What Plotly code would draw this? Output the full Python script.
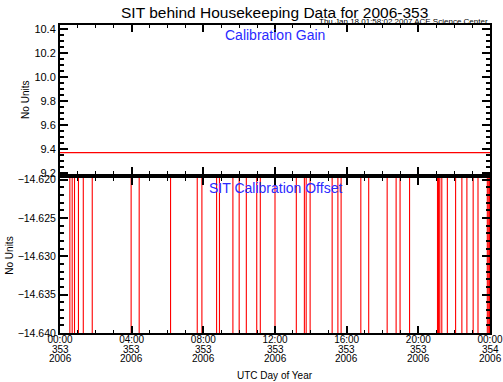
import plotly.graph_objects as go
from datetime import datetime, timedelta

# ---- data ----
day_start = "2006-12-19 00:00"
day_end = "2006-12-20 00:00"
gain_times = ["2006-12-19 00:00", "2006-12-20 00:00"]
gain_values = [9.37, 9.37]

# hours of day (353) at which the calibration offset jumps
offset_spike_hours = [0.55, 0.68, 0.81, 1.03, 1.30, 1.80, 3.97, 4.42, 6.17, 7.66, 7.92,
                      8.74, 8.90, 9.65, 10.00, 10.40, 10.98, 11.18, 12.00, 13.19, 13.64,
                      13.74, 13.96, 15.19, 15.51, 15.69, 16.79, 17.23, 18.26, 18.76, 18.98,
                      19.51, 21.07, 21.13, 21.20, 21.31, 21.62, 22.08, 22.43, 22.71, 23.06,
                      23.33, 23.85, 23.93, 23.98]
offset_low = -14.641   # just below the plotted range
offset_high = -14.619  # just above the plotted range

tick_vals = ["2006-12-19 00:00", "2006-12-19 04:00", "2006-12-19 08:00", "2006-12-19 12:00",
             "2006-12-19 16:00", "2006-12-19 20:00", "2006-12-20 00:00"]
tick_time = ["00:00", "04:00", "08:00", "12:00", "16:00", "20:00", "00:00"]
tick_doy = ["353", "353", "353", "353", "353", "353", "354"]
tick_year = ["2006", "2006", "2006", "2006", "2006", "2006", "2006"]

gain_ticks = [9.2, 9.4, 9.6, 9.8, 10.0, 10.2, 10.4]
offset_ticks = [-14.640, -14.635, -14.630, -14.625, -14.620]

# ---- build offset series ----
t0 = datetime(2006, 12, 19)
ox, oy = [t0], [offset_low]
for h in offset_spike_hours:
    t = t0 + timedelta(hours=h)
    ox += [t, t, t]
    oy += [offset_low, offset_high, offset_low]
ox.append(t0 + timedelta(hours=24))
oy.append(offset_low)

FONT = "Liberation Sans, Arial, sans-serif"
BLUE = "#2a2aff"
RED = "#ff0000"

fig = go.Figure()
fig.add_trace(go.Scatter(x=gain_times, y=gain_values, mode="lines",
                         line=dict(color=RED, width=1.2), xaxis="x", yaxis="y"))
fig.add_trace(go.Scatter(x=ox, y=oy, mode="lines",
                         line=dict(color=RED, width=1.1), xaxis="x2", yaxis="y2"))

axis_common = dict(showline=True, linecolor="black", linewidth=2, mirror="allticks",
                   ticks="inside", tickcolor="black", tickwidth=1.5, showgrid=False,
                   zeroline=False, automargin=False, layer="above traces")
xminor = dict(ticks="inside", dtick=3600000, ticklen=3, tickcolor="black", tickwidth=1)

fig.update_layout(
    width=503, height=382,
    margin=dict(l=60, r=13, t=25, b=49),
    paper_bgcolor="white", plot_bgcolor="white",
    showlegend=False,
    font=dict(family=FONT, color="black", size=10.5),
    xaxis=dict(domain=[0, 1], anchor="y", range=[day_start, day_end], type="date",
               tickvals=tick_vals, ticktext=tick_time, showticklabels=False, ticklen=7,
               minor=xminor, **axis_common),
    yaxis=dict(domain=[0.515, 1.0], anchor="x", range=[9.188, 10.433],
               tickvals=gain_ticks, tickformat=".1f", ticklen=8,
               minor=dict(ticks="inside", dtick=0.05, ticklen=4, tickcolor="black"),
               title=dict(text="No Units", font=dict(size=10), standoff=3),
               tickfont=dict(size=11), **axis_common),
    xaxis2=dict(domain=[0, 1], anchor="y2", range=[day_start, day_end], type="date",
                tickvals=tick_vals, ticktext=tick_time, ticklen=7, ticklabelstandoff=-4,
                minor=xminor, tickfont=dict(size=10), **axis_common),
    yaxis2=dict(domain=[0, 0.503], anchor="x2", range=[-14.6400, -14.6198],
                tickvals=offset_ticks, tickformat=".3f", ticklen=8,
                minor=dict(ticks="inside", dtick=0.001, ticklen=4, tickcolor="black"),
                title=dict(text="No Units", font=dict(size=10), standoff=2),
                tickfont=dict(size=10.5), **axis_common),
)

ann = [
    dict(text="SIT behind Housekeeping Data for 2006-353", x=0.498, y=1.0,
         xanchor="center", yanchor="middle", yshift=13, font=dict(size=15.5)),
    dict(text="Thu Jan 18 01:58:02 2007 ACE Science Center", x=1.0, y=1.0,
         xanchor="right", yanchor="middle", yshift=4, font=dict(size=8)),
    dict(text="Calibration Gain", x=0.5, y=1.0, xanchor="center", yanchor="middle",
         yshift=-10, font=dict(size=14, color=BLUE)),
    dict(text="SIT Calibration Offset", x=0.5, y=0.503, xanchor="center",
         yanchor="middle", yshift=-10, font=dict(size=14, color=BLUE)),
    dict(text="UTC Day of Year", x=0.5, y=0.0, xanchor="center", yanchor="middle",
         yshift=-42, font=dict(size=10)),
]
for a in ann:
    a.update(xref="paper", yref="paper", showarrow=False)
for tv, d, yr in zip(tick_vals, tick_doy, tick_year):
    ann.append(dict(text=d, x=tv, xref="x2", y=0.0, yref="paper", yanchor="middle",
                    yshift=-16, showarrow=False, font=dict(size=10)))
    ann.append(dict(text=yr, x=tv, xref="x2", y=0.0, yref="paper", yanchor="middle",
                    yshift=-25, showarrow=False, font=dict(size=10)))
fig.update_layout(annotations=ann)

fig.write_html("out.html",
               config={"displayModeBar": False},
               post_script="document.body.style.margin='0px';"
                           "document.body.style.overflow='hidden';")
